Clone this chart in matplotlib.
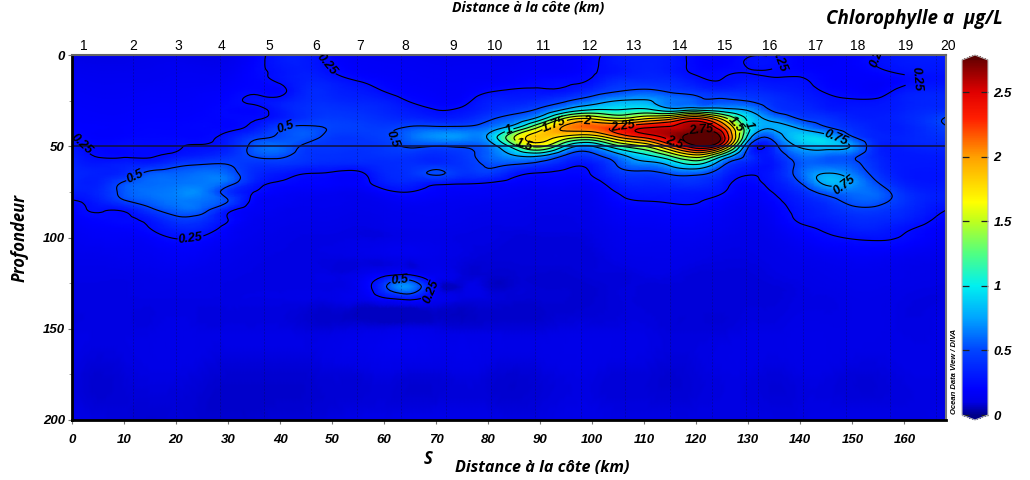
import numpy as np
import matplotlib
matplotlib.use('Agg')
import matplotlib.pyplot as plt
import matplotlib.tri as mtri
from matplotlib.colors import LinearSegmentedColormap, Normalize

# distance from the coast (km) and depth (m) of the section grid
dist_km = [0, 5, 10, 15, 20, 25, 30, 35, 40, 45, 50, 55, 60, 65, 70, 75, 80, 85, 90, 95, 100, 105, 110, 115, 120, 125, 130, 135, 140, 145, 150, 155, 160, 168]
depth_m = [0, 5, 10, 15, 20, 25, 30, 35, 40, 45, 50, 55, 60, 65, 70, 75, 80, 85, 90, 95, 100, 110, 120, 127, 135, 150, 175, 200]

# chlorophyll a (ug/L), one row per depth
chl_000 = [.12, .10, .11, .12, .12, .11, .12, .20, .30, .30, .20, .16, .15, .15, .14, .14, .14, .14, .15, .16, .22, .30, .32, .30, .22, .20, .24, .24, .20, .18, .20, .25, .30, .32]
chl_005 = [.13, .12, .12, .13, .14, .13, .14, .21, .30, .31, .23, .18, .17, .16, .15, .15, .15, .15, .16, .17, .23, .30, .33, .30, .22, .20, .26, .26, .20, .18, .20, .26, .30, .30]
chl_010 = [.15, .14, .14, .14, .15, .15, .16, .22, .28, .32, .26, .20, .18, .17, .16, .16, .16, .17, .18, .19, .24, .30, .34, .31, .24, .24, .25, .24, .23, .20, .19, .22, .26, .27]
chl_015 = [.16, .15, .15, .15, .16, .16, .18, .21, .26, .34, .32, .26, .21, .18, .17, .17, .18, .20, .23, .24, .28, .40, .40, .38, .30, .26, .30, .28, .27, .21, .19, .18, .23, .27]
chl_020 = [.17, .16, .16, .17, .17, .18, .20, .23, .22, .36, .35, .31, .25, .20, .18, .18, .24, .27, .27, .29, .40, .50, .55, .48, .42, .38, .38, .34, .30, .24, .21, .20, .30, .33]
chl_025 = [.18, .17, .17, .18, .18, .19, .22, .27, .30, .38, .38, .35, .32, .24, .20, .21, .32, .33, .38, .48, .62, .75, .77, .63, .55, .52, .49, .40, .34, .28, .26, .27, .33, .36]
chl_030 = [.19, .18, .18, .19, .19, .20, .22, .22, .31, .40, .42, .40, .36, .30, .25, .27, .36, .43, .53, .80, 1.0, 1.0, 1.05, .85, .95, .85, .72, .46, .38, .32, .30, .30, .34, .38]
chl_035 = [.20, .19, .19, .20, .20, .21, .22, .24, .32, .42, .46, .44, .40, .37, .33, .35, .47, .58, .90, 1.6, 1.75, 1.55, 1.75, 1.95, 2.3, 1.7, .95, .68, .49, .42, .34, .32, .36, .52]
chl_040 = [.21, .20, .20, .21, .21, .22, .22, .30, .48, .53, .49, .47, .46, .53, .55, .55, .62, .95, 1.6, 2.05, 2.15, 2.3, 2.5, 2.55, 2.7, 2.3, 1.05, .78, .72, .53, .40, .33, .34, .48]
chl_045 = [.25, .20, .21, .22, .22, .22, .30, .45, .52, .55, .45, .44, .48, .60, .70, .70, .78, 1.5, 1.85, 1.65, 1.55, 2.0, 2.3, 2.6, 2.95, 2.65, .9, .60, .90, .85, .52, .35, .35, .42]
chl_050 = [.30, .22, .23, .23, .24, .26, .33, .55, .60, .47, .43, .42, .45, .52, .50, .52, .62, 1.15, 1.55, .95, .75, 1.2, 1.5, 2.1, 2.7, 2.2, .52, .42, .78, .85, .72, .35, .33, .36]
chl_055 = [.33, .24, .23, .24, .28, .33, .40, .52, .54, .43, .41, .40, .42, .42, .38, .44, .58, .75, .80, .48, .45, .68, .95, 1.3, 1.7, 1.1, .42, .35, .62, .60, .55, .35, .30, .32]
chl_060 = [.36, .30, .33, .35, .45, .50, .50, .42, .42, .38, .36, .35, .38, .40, .40, .42, .52, .50, .42, .30, .30, .52, .65, .80, 1.0, .55, .33, .30, .55, .58, .55, .38, .30, .30]
chl_065 = [.37, .33, .38, .55, .58, .62, .58, .38, .30, .25, .23, .22, .36, .42, .52, .42, .45, .30, .24, .22, .26, .42, .45, .52, .55, .38, .26, .32, .58, .76, .65, .42, .30, .29]
chl_070 = [.37, .34, .52, .60, .62, .64, .58, .33, .24, .21, .20, .20, .32, .35, .30, .27, .25, .20, .18, .18, .20, .33, .36, .38, .40, .30, .22, .30, .50, .80, .72, .50, .33, .30]
chl_075 = [.32, .36, .55, .62, .66, .66, .42, .25, .19, .17, .16, .15, .22, .25, .20, .18, .17, .15, .14, .14, .16, .26, .30, .30, .30, .26, .18, .26, .38, .58, .62, .58, .40, .32]
chl_080 = [.24, .32, .48, .58, .64, .62, .50, .21, .16, .14, .14, .13, .15, .18, .16, .15, .14, .13, .12, .12, .14, .22, .25, .26, .26, .20, .16, .22, .32, .42, .55, .55, .42, .31]
chl_085 = [.20, .26, .27, .45, .58, .56, .30, .17, .14, .13, .13, .12, .13, .14, .14, .13, .12, .12, .11, .11, .13, .18, .20, .21, .21, .17, .14, .19, .29, .36, .45, .45, .38, .25]
chl_090 = [.18, .22, .23, .30, .45, .42, .25, .15, .13, .12, .12, .11, .12, .13, .13, .12, .11, .11, .10, .10, .12, .16, .17, .18, .18, .15, .13, .17, .27, .32, .38, .38, .34, .21]
chl_095 = [.16, .19, .20, .25, .34, .33, .20, .14, .12, .11, .11, .10, .11, .12, .12, .11, .10, .10, .10, .10, .11, .14, .15, .16, .16, .14, .12, .15, .22, .27, .33, .33, .27, .18]
chl_100 = [.15, .17, .17, .20, .26, .24, .17, .13, .11, .10, .10, .10, .10, .11, .11, .10, .10, .09, .09, .09, .10, .13, .14, .14, .14, .12, .11, .13, .18, .23, .26, .27, .24, .16]
chl_110 = [.13, .13, .14, .15, .17, .16, .13, .11, .10, .10, .10, .11, .12, .13, .12, .10, .09, .09, .09, .09, .09, .11, .12, .12, .11, .10, .10, .11, .13, .15, .17, .17, .15, .13]
chl_120 = [.11, .11, .11, .12, .13, .12, .11, .10, .10, .10, .10, .12, .19, .22, .14, .09, .08, .08, .08, .08, .09, .09, .10, .10, .09, .09, .09, .10, .11, .12, .13, .13, .12, .11]
chl_127 = [.10, .10, .10, .11, .11, .11, .10, .10, .10, .10, .10, .15, .45, .68, .17, .09, .08, .08, .08, .08, .08, .09, .09, .09, .09, .09, .09, .09, .10, .11, .12, .12, .11, .10]
chl_135 = [.10, .10, .10, .10, .10, .10, .10, .10, .10, .10, .10, .11, .16, .20, .13, .09, .09, .08, .08, .08, .08, .09, .09, .09, .09, .09, .09, .09, .10, .10, .11, .11, .10, .10]
chl_150 = [.10, .10, .10, .10, .11, .10, .10, .10, .10, .09, .09, .10, .10, .11, .10, .09, .09, .09, .09, .10, .10, .10, .10, .09, .09, .09, .10, .10, .11, .11, .11, .11, .10, .11]
chl_175 = [.10, .08, .09, .10, .10, .09, .08, .08, .08, .08, .09, .09, .10, .09, .09, .10, .09, .08, .09, .10, .10, .09, .09, .08, .09, .10, .10, .09, .10, .10, .09, .09, .10, .10]
chl_200 = [.11, .10, .09, .08, .09, .08, .08, .08, .09, .09, .10, .11, .11, .12, .12, .11, .11, .10, .10, .11, .11, .10, .10, .10, .10, .10, .10, .10, .10, .11, .11, .11, .10, .11]

contour_levels = [0.25, 0.5, 0.75, 1, 1.25, 1.5, 1.75, 2, 2.25, 2.5, 2.75]

# station numbers on the top edge and where they sit, in km
station_names = [str(i) for i in range(1, 21)]
station_label_km = [2.3, 11.7, 20.4, 28.8, 38, 46.9, 55.4, 64, 73.3, 81.3, 90.6, 99.6, 108, 116.9, 125.4, 134.2, 143, 151, 160.3, 168.4]
station_line_km = [11.7, 20, 28.5, 37, 46, 54.8, 63.3, 71.8, 80.5, 89, 97.8, 106.3, 115, 123, 129.6, 131.8, 140.6, 148.8, 157.3, 166]

chl = np.array([chl_000, chl_005, chl_010, chl_015, chl_020, chl_025, chl_030,
                chl_035, chl_040, chl_045, chl_050, chl_055, chl_060, chl_065,
                chl_070, chl_075, chl_080, chl_085, chl_090, chl_095, chl_100,
                chl_110, chl_120, chl_127, chl_135, chl_150, chl_175, chl_200])

W, H = 1030, 480
plt.rcParams['font.family'] = ['Liberation Sans', 'DejaVu Sans']

# ODV style rainbow
vmax = 2.75
cmap = LinearSegmentedColormap.from_list('odv', [
    (0 / vmax, '#00008c'), (0.1 / vmax, '#0000e6'), (0.2 / vmax, '#0000ff'),
    (0.5 / vmax, '#0044ff'), (0.75 / vmax, '#00a4ff'), (1.0 / vmax, '#00f0f0'),
    (1.25 / vmax, '#50ff82'), (1.5 / vmax, '#beff1e'), (1.65 / vmax, '#ffff00'),
    (2.0 / vmax, '#ffa000'), (2.3 / vmax, '#ff1e00'), (2.5 / vmax, '#e10000'),
    (1.0, '#6e0000')], N=512)
cmap.set_over('#5a0000')
cmap.set_under('#000088')
norm = Normalize(0, vmax)

fig = plt.figure(figsize=(W / 100, H / 100), dpi=100)
ax = fig.add_axes([72 / W, 1 - 420 / H, (946 - 72) / W, (420 - 55) / H])
ax.set_xlim(0, 168)
ax.set_ylim(200, 0)

# smooth the section through matplotlib's own triangulation, like the DIVA gridding
xx, yy = np.meshgrid(dist_km, depth_m)
triang = mtri.Triangulation(xx.ravel(), yy.ravel())
tri_fine, chl_fine = mtri.UniformTriRefiner(triang).refine_field(chl.ravel(), subdiv=3)
chl_fine = np.clip(chl_fine, 0.06, None)  # no dark halos from the cubic overshoot
mesh = ax.tripcolor(tri_fine, chl_fine, shading='gouraud', cmap=cmap, norm=norm)

cs = ax.tricontour(tri_fine, chl_fine, levels=contour_levels, colors='black', linewidths=0.8)
ax.clabel(cs, fmt='%g', fontsize=9, inline=True, inline_spacing=1, manual=[
    (49.6, 4), (2.5, 46.6), (22.7, 98.6), (41.5, 43), (12, 66), (61, 47),
    (63, 124.5), (69.5, 130), (136.7, 1), (156, 1), (167, 15), (147, 45),
    (148.6, 72), (84, 41), (87, 48), (93, 40), (99, 38), (106, 41),
    (116, 47), (121, 43), (127.5, 38), (130.4, 38)])
for t in cs.labelTexts:
    t.set_fontstyle('italic')
    t.set_fontweight('bold')

for x in station_line_km:
    ax.axvline(x, color='#101030', lw=0.6, ls=(0, (2, 2)), alpha=0.4)
ax.axhline(50, color='#101040', lw=1.3, alpha=0.85)

ax.set_xlim(0, 168)
ax.set_ylim(200, 0)
ax.set_xticks(np.arange(0, 161, 10))
ax.set_yticks([0, 50, 100, 150, 200])
ax.set_yticks([25, 75, 125, 175], minor=True)
ax.tick_params(axis='x', which='major', length=3, width=0.8, color='#777777', pad=7)
ax.tick_params(axis='y', which='major', length=3, width=0.8, color='#777777', pad=2)
ax.tick_params(axis='y', which='minor', length=2, width=0.6, color='#999999')
for t in ax.get_xticklabels() + ax.get_yticklabels():
    t.set_fontsize(9.5)
    t.set_fontstyle('italic')
    t.set_fontweight('bold')

ax.spines['left'].set_linewidth(2)
ax.spines['bottom'].set_linewidth(2)
ax.spines['top'].set_color('#666666')
ax.spines['top'].set_linewidth(1.5)
ax.spines['right'].set_color('#777777')
ax.spines['right'].set_linewidth(1.5)

for name, x in zip(station_names, station_label_km):
    ax.text(x, 1.026, name, transform=ax.get_xaxis_transform(), ha='center', va='center',
            fontsize=10, clip_on=False)

cax = fig.add_axes([962 / W, 1 - 420 / H, 26 / W, (420 - 55) / H])
cb = fig.colorbar(mesh, cax=cax, extend='both', extendfrac=0.014, ticks=[0, 0.5, 1, 1.5, 2, 2.5])
cb.set_ticklabels(['0', '0.5', '1', '1.5', '2', '2.5'])
cb.outline.set_edgecolor('#bbbbbb')
cb.outline.set_linewidth(0.8)
cax.tick_params(axis='y', which='major', left=True, right=True, direction='in', length=5, width=0.9, color='#222222', pad=4)
for t in cax.get_yticklabels():
    t.set_fontsize(9.5)
    t.set_fontstyle('italic')
    t.set_fontweight('bold')


def page_text(x, y, s, **kw):
    fig.text(x / W, 1 - y / H, s, **kw)


title_font = dict(family=['Open Sans', 'DejaVu Sans'], fontstyle='italic', fontweight='bold')
page_text(528, 7, 'Distance à la côte (km)', ha='center', va='center', fontsize=10.2, **title_font)
page_text(542, 468, 'Distance à la côte (km)', ha='center', va='center', fontsize=11.6, **title_font)
page_text(914, 19, 'Chlorophylle a  µg/L', ha='center', va='center', fontsize=13.5, **title_font)
page_text(20, 238, 'Profondeur', rotation=90, ha='center', va='center', fontsize=12, **title_font)
page_text(428, 459, 'S', ha='center', va='center', fontsize=12, **title_font)
page_text(955, 371, 'Ocean Data View / DIVA', rotation=90, ha='center', va='center', fontsize=5.5,
          fontstyle='italic', fontweight='bold')

fig.savefig('out.png', dpi=100)
